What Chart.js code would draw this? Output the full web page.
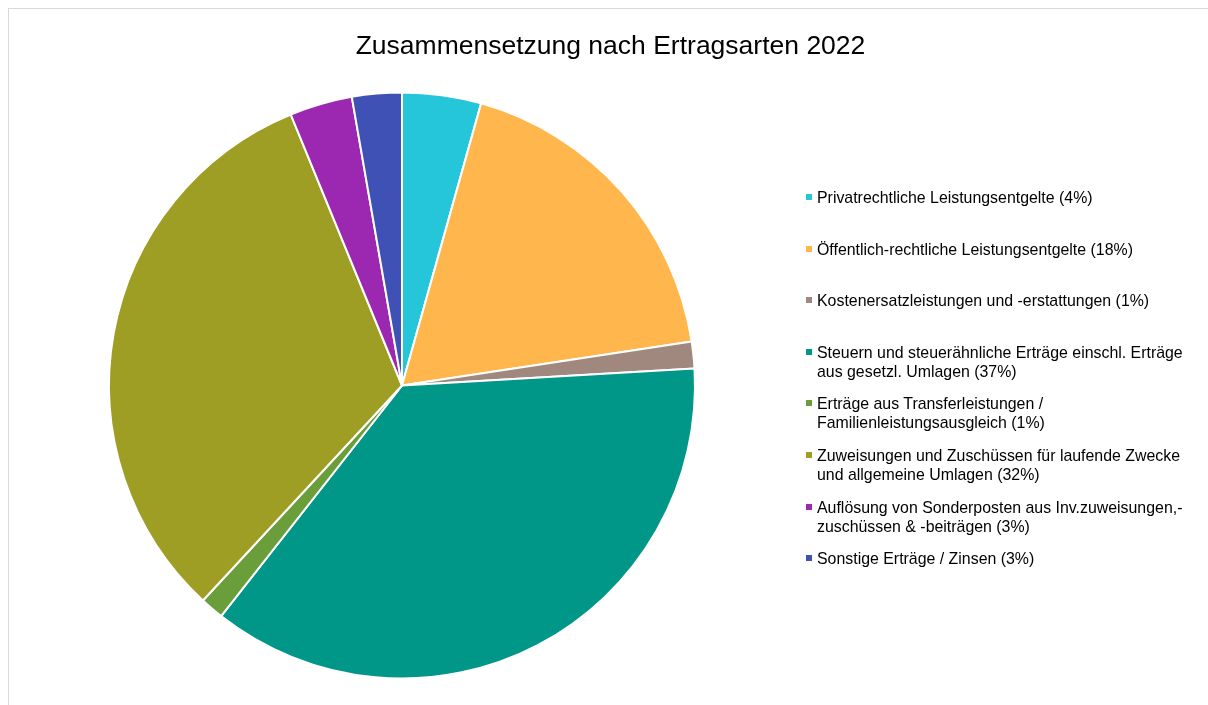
<!DOCTYPE html>
<html lang="de">
<head>
<meta charset="utf-8">
<title>Zusammensetzung nach Ertragsarten 2022</title>
<script src="https://cdn.jsdelivr.net/npm/chart.js@4/dist/chart.umd.min.js"></script>
<style>
    html, body {
        margin: 0;
        padding: 0;
        background: #ffffff;
        overflow: hidden;
    }
    .frame {
        position: absolute;
        left: 8px;
        top: 8px;
        width: 1300px;
        height: 800px;
        border: 1px solid #d9d9d9;
    }
    #ertragChart {
        position: absolute;
        left: 0;
        top: 0;
    }
    .chart-title {
        position: absolute;
        left: 0;
        top: 27px;
        width: 1221px;
        text-align: center;
        font-family: "Liberation Sans", Arial, sans-serif;
        font-size: 26.5px;
        line-height: 36px;
        color: #000000;
    }
    .legend {
        position: absolute;
        left: 806px;
        top: 188px;
        font-family: "Liberation Sans", Arial, sans-serif;
        font-size: 15.9px;
        line-height: 19px;
        color: #000000;
    }
    .legend-item {
        position: relative;
        height: 51.6px;
        padding-left: 11px;
        white-space: nowrap;
    }
    .legend-item .marker {
        position: absolute;
        left: 0;
        top: 6px;
        width: 6px;
        height: 6px;
    }
</style>
</head>
<body>
<div class="frame"></div>
<canvas id="ertragChart" width="1208" height="705"></canvas>
<div class="chart-title">Zusammensetzung nach Ertragsarten 2022</div>
<div class="legend"></div>

<script>
// Ertragsarten (Legende, z.T. zweizeilig)
const categories = [
    ['Privatrechtliche Leistungsentgelte (4%)'],
    ['Öffentlich-rechtliche Leistungsentgelte (18%)'],
    ['Kostenersatzleistungen und -erstattungen (1%)'],
    ['Steuern und steuerähnliche Erträge einschl. Erträge', 'aus gesetzl. Umlagen (37%)'],
    ['Erträge aus Transferleistungen /', 'Familienleistungsausgleich (1%)'],
    ['Zuweisungen und Zuschüssen für laufende Zwecke', 'und allgemeine Umlagen (32%)'],
    ['Auflösung von Sonderposten aus Inv.zuweisungen,-', 'zuschüssen & -beiträgen (3%)'],
    ['Sonstige Erträge / Zinsen (3%)']
];

// Anteile in Prozent (aus dem Bild geschätzt)
const shares = [4.35, 18.25, 1.47, 36.5, 1.3, 31.9, 3.46, 2.74];

// Farben je Ertragsart
const colors = ['#26c6da', '#ffb74d', '#a1887f', '#009688', '#6a9e3a', '#9e9d24', '#9c27b0', '#3f51b5'];

document.addEventListener('DOMContentLoaded', function() {
    createChart();
    createLegend();
});

// Tortendiagramm
function createChart() {
    const ctx = document.getElementById('ertragChart').getContext('2d');

    new Chart(ctx, {
        type: 'pie',
        data: {
            labels: categories.map(c => c.join(' ')),
            datasets: [{
                data: shares,
                backgroundColor: colors,
                borderColor: '#ffffff',
                borderWidth: 2
            }]
        },
        options: {
            responsive: false,
            animation: false,
            events: [],
            layout: {
                padding: { left: 108, top: 91, right: 512, bottom: 25 }
            },
            plugins: {
                legend: { display: false },
                title: { display: false },
                tooltip: { enabled: false }
            }
        }
    });
}

// Legende als HTML
function createLegend() {
    const legend = document.querySelector('.legend');

    categories.forEach((lines, i) => {
        const item = document.createElement('div');
        item.className = 'legend-item';

        const marker = document.createElement('span');
        marker.className = 'marker';
        marker.style.background = colors[i];
        item.appendChild(marker);

        lines.forEach(line => {
            const row = document.createElement('div');
            row.textContent = line;
            item.appendChild(row);
        });

        legend.appendChild(item);
    });
}
</script>
</body>
</html>
